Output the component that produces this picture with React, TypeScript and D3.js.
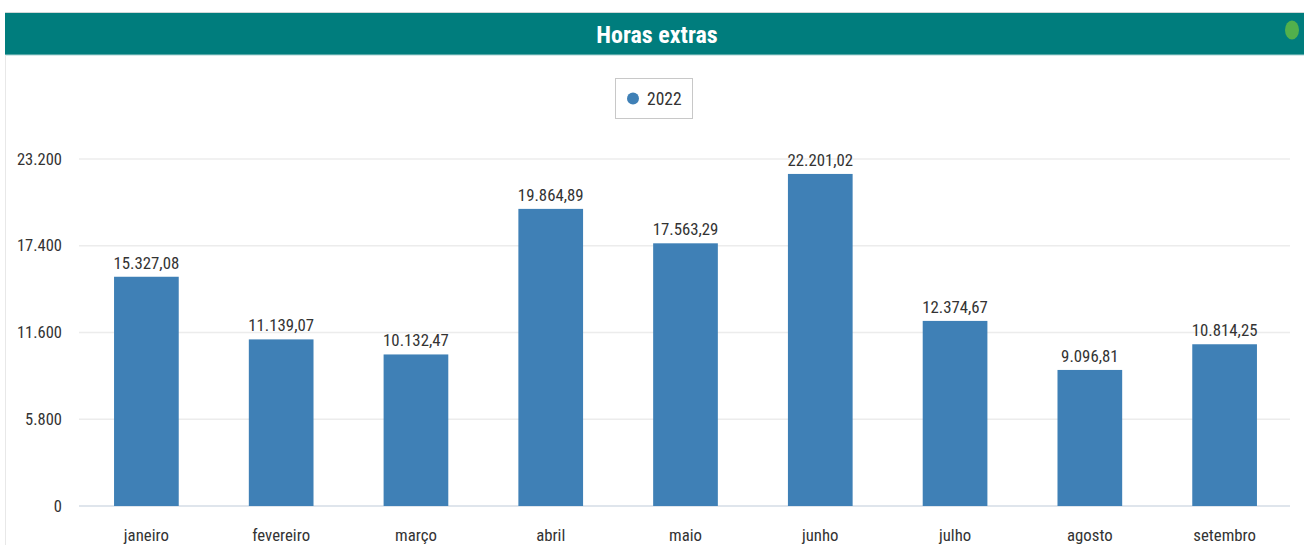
import React from "react";
import * as d3 from "d3";

const months = ["janeiro", "fevereiro", "março", "abril", "maio", "junho", "julho", "agosto", "setembro"];
const values2022 = [15327.08, 11139.07, 10132.47, 19864.89, 17563.29, 22201.02, 12374.67, 9096.81, 10814.25];
const yTicks = [0, 5800, 11600, 17400, 23200];
const seriesName = "2022";
const title = "Horas extras";

const W = 1304;
const H = 545;
const FONT = "'Liberation Sans Narrow', 'Arial Narrow', 'Roboto Condensed', 'Liberation Sans', sans-serif";

const fmtTick = (v: number) => d3.format(",.0f")(v).replace(/,/g, ".");
const fmtVal = (v: number) => {
  const s = d3.format(",.2f")(v);
  return s.replace(/,/g, "#").replace(/\./g, ",").replace(/#/g, ".");
};

export default function App() {
  const x = d3.scaleBand<string>().domain(months).range([79, 1292]).paddingInner(0.52).paddingOuter(0.26);
  const y = d3.scaleLinear().domain([0, 23200]).range([506, 159]);
  return (
    <svg width={W} height={H} style={{ position: "absolute", left: 0, top: 0, background: "#fff" }} fontFamily={FONT}>
      <rect x={5} y={12} width={W - 5} height={43} fill="#007d7d" />
      <line x1={5} x2={W} y1={12.5} y2={12.5} stroke="#cfd8d8" />
      <line x1={5} x2={W} y1={55} y2={55} stroke="#a9d3d3" />
      <line x1={5.5} x2={5.5} y1={55} y2={H} stroke="#e8e8e8" />
      <text x={657} y={43} textAnchor="middle" fill="#fff" fontSize={24} fontWeight="bold">{title}</text>
      <ellipse cx={1292} cy={30} rx={7} ry={9.5} fill="#52b04c" />

      <rect x={615.5} y={78.5} width={77} height={40} fill="#fff" stroke="#c8c8c8" />
      <circle cx={633} cy={98.5} r={6} fill="#3f80b6" />
      <text x={647} y={104.5} fontSize={17.5} fill="#333">{seriesName}</text>

      {yTicks.map((t) => (
        <g key={t}>
          <line x1={79} x2={1290} y1={y(t)} y2={y(t)} stroke={t === 0 ? "#d5dce6" : "#ececec"} strokeWidth={1.5} />
          <text x={62} y={y(t) + 5.5} textAnchor="end" fontSize={16.5} fill="#333">{fmtTick(t)}</text>
        </g>
      ))}

      {months.map((m, i) => {
        const v = values2022[i];
        const bx = x(m)!;
        const bw = x.bandwidth();
        return (
          <g key={m}>
            <rect x={bx} y={y(v)} width={bw} height={y(0) - y(v)} fill="#3f80b6" />
            <text x={bx + bw / 2} y={y(v) - 8} textAnchor="middle" fontSize={16.8} fill="#333">{fmtVal(v)}</text>
            <text x={bx + bw / 2} y={541} textAnchor="middle" fontSize={16.8} fill="#333">{m}</text>
          </g>
        );
      })}
    </svg>
  );
}
